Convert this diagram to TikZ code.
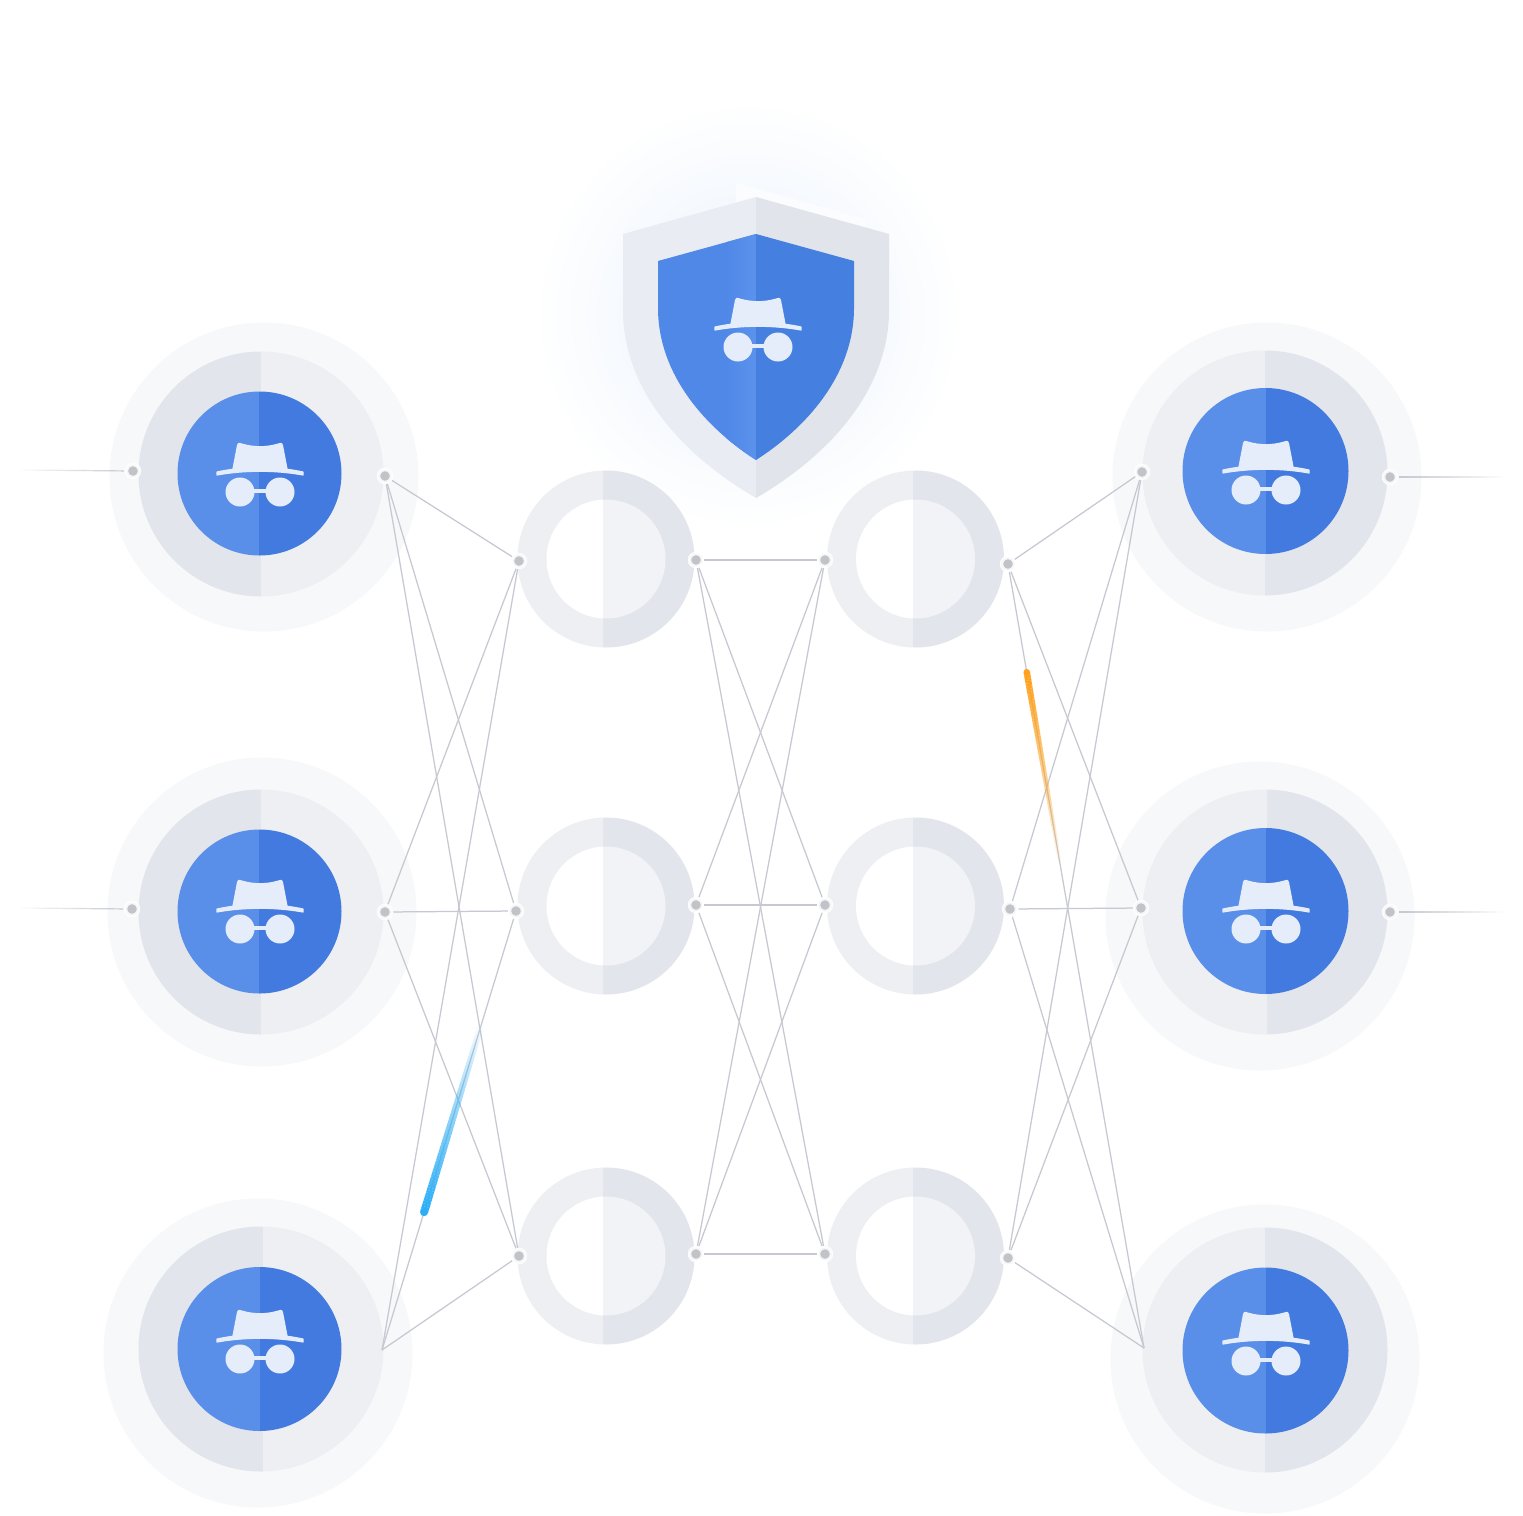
\documentclass[tikz,border=0pt]{standalone}
\usetikzlibrary{calc}
\definecolor{ringdark}{HTML}{E2E5EB}
\definecolor{ringlight}{HTML}{EDEFF2}
\definecolor{halo}{HTML}{F7F8FA}
\definecolor{blueA}{HTML}{5A8FE9}
\definecolor{blueB}{HTML}{437ADF}
\definecolor{shA}{HTML}{5088E8}
\definecolor{shA2}{HTML}{5B92EC}
\definecolor{shB}{HTML}{457FE0}
\definecolor{shoutL}{HTML}{E9EDF3}
\definecolor{shoutR}{HTML}{E1E5EB}
\definecolor{glow}{HTML}{E9F1FC}
\definecolor{iconc}{HTML}{E5ECFA}
\definecolor{wire}{HTML}{C7C8D2}
\definecolor{dotc}{HTML}{C1C3C9}
\definecolor{streakB}{HTML}{2BAEF6}
\definecolor{streakO}{HTML}{FFA11C}
\definecolor{innerR}{HTML}{F1F3F6}
\newcommand{\halfdisc}[6]{% cx cy r split leftcol rightcol
  \begin{scope}\clip (#1-#3-2,#2-#3-2) rectangle (#4,#2+#3+2);\fill[#5] (#1,#2) circle (#3);\end{scope}
  \begin{scope}\clip (#4,#2-#3-2) rectangle (#1+#3+2,#2+#3+2);\fill[#6] (#1,#2) circle (#3);\end{scope}}
\newcommand{\fadeseg}[9]{% from to t0 t1 col w0 w1 op0 n
  \foreach \k in {1,...,#9}{
    \pgfmathsetmacro\ta{#3+(#4-#3)*(\k-1)/#9}
    \pgfmathsetmacro\tb{#3+(#4-#3)*\k/#9}
    \pgfmathsetmacro\wd{#6+(#7-#6)*(\k-1)/#9}
    \pgfmathsetmacro\op{#8*pow(1-(\k-0.5)/#9,0.9)}
    \draw[draw=#5,line width=\wd pt,opacity=\op,line cap=butt] ($(#1)!\ta!(#2)$) -- ($(#1)!\tb!(#2)$);
  }}
\newcommand{\spydisc}[7]{% outer x y, mid x y split, colours
  \fill[halo] (#1,#2) circle (154.5);
  \halfdisc{#3}{#4}{122.5}{#5}{#6}{#7}}
\newcommand{\bluedisc}[4]{\halfdisc{#1}{#2}{#3}{#4}{blueA}{blueB}}
\newcommand{\ringnode}[3]{%
  \halfdisc{#1}{#2}{88.5}{#3}{ringlight}{ringdark}
  \halfdisc{#1}{#2}{59.5}{#3}{white}{innerR}}
\newcommand{\shieldouter}{(756,197) -- (623,234) -- (623,310) .. controls (623,393) and (687,458) .. (756,498) .. controls (825,458) and (889,393) .. (889,310) -- (889,234) -- cycle}
\newcommand{\shieldinner}{(756,234) -- (658,261) -- (658,308) .. controls (658,375) and (706,428) .. (756,460) .. controls (806,428) and (854,375) .. (854,308) -- (854,261) -- cycle}
\tikzset{
  x=1pt,y=-1pt,
  dotn/.style={circle,inner sep=0pt,minimum size=13pt,fill=dotc,draw=white,draw opacity=.85,line width=3.5pt},
  wireline/.style={draw=wire,line width=1.25pt},
  spyicon/.pic={
    \filldraw[iconc,line width=1.2pt,line join=round] (-43,-1) .. controls (-15,-7) and (15,-7) .. (43,-1) -- (43,2) .. controls (15,-3) and (-15,-3) .. (-43,2) -- cycle;
    \fill[iconc] (-28,-2) -- (-23,-28) .. controls (-22,-31) and (-20,-30.5) .. (-18,-29.5) .. controls (-6,-26) and (6,-26) .. (18,-29.5) .. controls (20,-30.5) and (22,-31) .. (23,-28) -- (28,-2) -- cycle;
    \fill[iconc] (-20,19) circle (14.5);
    \fill[iconc] (20,19) circle (14.5);
    \fill[iconc] (-8,15.5) rectangle (8,20);
  }
}
\begin{document}
\begin{tikzpicture}
\useasboundingbox (0,0) rectangle (1523,1515);
\fill[white] (0,0) rectangle (1523,1515);
% glow behind shield
\shade[inner color=glow,outer color=white] (748,315) circle (215);
\fill[white,opacity=.55] (736,183) -- (865,219) -- (865,232) -- (756,197) -- (736,203) -- cycle;
% spy discs
\spydisc{264}{477}{261}{474}{261}{ringdark}{ringlight}
\spydisc{262}{912}{261}{912}{261}{ringdark}{ringlight}
\spydisc{258}{1353}{261}{1349}{263}{ringdark}{ringlight}
\spydisc{1267}{477}{1265}{473}{1265}{ringlight}{ringdark}
\spydisc{1260}{916}{1265}{912}{1267}{ringlight}{ringdark}
\spydisc{1265}{1359}{1265}{1350}{1265}{ringlight}{ringdark}
\bluedisc{259.5}{473.5}{82}{259}
\bluedisc{259.5}{911.5}{82}{259}
\bluedisc{259.5}{1349}{82}{260}
\bluedisc{1265.5}{471}{83}{1266}
\bluedisc{1265.5}{911}{83}{1266}
\bluedisc{1265.5}{1350.5}{83}{1266}
\pic at (260,473) {spyicon};
\pic at (260,910) {spyicon};
\pic at (260,1340) {spyicon};
\pic at (1266,471) {spyicon};
\pic at (1266,910) {spyicon};
\pic at (1266,1342) {spyicon};
% shield
\begin{scope}
\clip (600,180) rectangle (756,510);
\fill[shoutL] \shieldouter;
\end{scope}
\begin{scope}
\clip (756,180) rectangle (900,510);
\fill[shoutR] \shieldouter;
\end{scope}
\begin{scope}
\clip (640,220) rectangle (756,470);
\fill[shA] \shieldinner;
\clip \shieldinner;
\shade[left color=shA,right color=shA2] (726,225) rectangle (756,470);
\end{scope}
\begin{scope}
\clip (756,220) rectangle (870,470);
\fill[shB] \shieldinner;
\end{scope}
\pic at (758,328) {spyicon};
% ring nodes
\ringnode{606}{559}{603}
\ringnode{606}{906}{603}
\ringnode{606}{1256}{603}
\ringnode{915.5}{559}{913}
\ringnode{915.5}{906}{913}
\ringnode{915.5}{1256}{913}
% connection nodes
\node[dotn] (P1) at (133,471) {};
\node[dotn] (P2) at (132,909) {};
\node[dotn] (Q1) at (1390,477) {};
\node[dotn] (Q2) at (1390,912) {};
\coordinate (P1e) at (20,470);
\coordinate (P2e) at (20,908);
\coordinate (Q1e) at (1505,477);
\coordinate (Q2e) at (1505,912);
\node[dotn] (L1) at (385,476) {};
\node[dotn] (L2) at (385,912) {};
\coordinate (L3) at (382,1350);
\node[dotn] (A1) at (519,561) {};
\node[dotn] (A2) at (516,911) {};
\node[dotn] (A3) at (519,1256) {};
\node[dotn] (B1) at (696,560) {};
\node[dotn] (B2) at (696,905) {};
\node[dotn] (B3) at (696,1254) {};
\node[dotn] (C1) at (825,560) {};
\node[dotn] (C2) at (825,905) {};
\node[dotn] (C3) at (825,1254) {};
\node[dotn] (D1) at (1008,564) {};
\node[dotn] (D2) at (1010,909) {};
\node[dotn] (D3) at (1008,1258) {};
\node[dotn] (E1) at (1142,472) {};
\node[dotn] (E2) at (1141,908) {};
\coordinate (E3) at (1144,1348);
% connectors
\foreach \a in {L1,L2,L3}\foreach \b in {A1,A2,A3}{\draw[wireline] (\a) -- (\b);}
\foreach \a in {B1,B2,B3}\foreach \b in {C1,C2,C3}{\draw[wireline] (\a) -- (\b);}
\foreach \a in {D1,D2,D3}\foreach \b in {E1,E2,E3}{\draw[wireline] (\a) -- (\b);}
\fadeseg{P1}{P1e}{0.08}{1}{wire}{1.2}{1.2}{1}{24}
\fadeseg{P2}{P2e}{0.08}{1}{wire}{1.2}{1.2}{1}{24}
\fadeseg{Q1}{Q1e}{0.08}{1}{wire}{1.2}{1.2}{1}{24}
\fadeseg{Q2}{Q2e}{0.08}{1}{wire}{1.2}{1.2}{1}{24}
% moving pulses
\fill[streakB] ($(L3)!0.314!(A2)$) circle (4);
\fadeseg{L3}{A2}{0.314}{0.74}{streakB}{8}{6}{1}{70}
\fill[streakO] ($(D1)!0.138!(E3)$) circle (3.25);
\fadeseg{D1}{E3}{0.138}{0.385}{streakO}{6.5}{3.5}{1}{70}
\end{tikzpicture}
\end{document}
